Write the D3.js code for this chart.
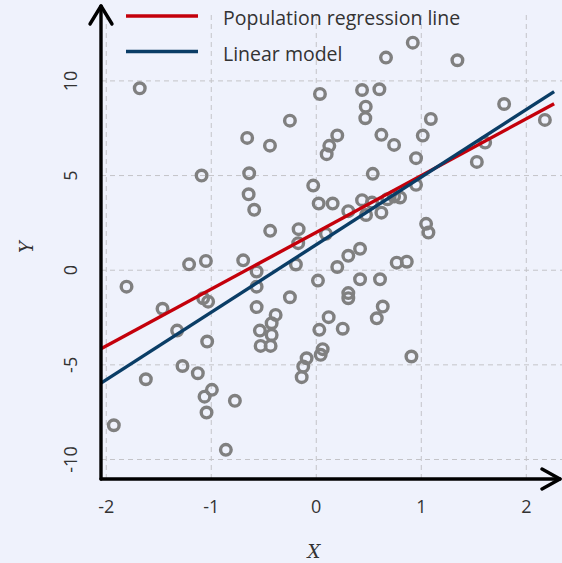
<!DOCTYPE html>
<html>
<head>
<meta charset="utf-8">
<script src="https://cdn.jsdelivr.net/npm/d3@7"></script>
<style>
  html, body { margin: 0; padding: 0; background: #eff2fc; }
  svg { display: block; }
</style>
</head>
<body>
<svg id="chart" width="562" height="563"></svg>
<script>
// ---- data ----
const pointsX = [2.177,1.789,1.608,1.529,1.344,1.091,1.046,1.068,1.014,0.950,0.950,0.906,0.919,0.862,0.766,0.798,0.741,0.677,0.741,0.664,0.620,0.620,0.633,0.576,0.607,0.601,0.538,0.531,0.474,0.436,0.471,0.467,0.436,0.417,0.417,0.305,0.305,0.305,0.305,0.252,0.200,0.200,0.156,0.124,0.099,0.092,0.118,0.035,0.023,-0.029,0.016,0.029,0.061,0.042,-0.092,-0.124,-0.139,-0.168,-0.172,-0.194,-0.251,-0.439,-0.387,-0.425,-0.537,-0.425,-0.530,-0.435,-0.568,-0.568,-0.568,-0.696,-0.591,-0.644,-0.639,-0.658,-0.441,-0.251,-1.051,-1.211,-1.092,-1.077,-1.030,-1.039,-1.464,-1.325,-1.274,-1.128,-1.623,-1.807,-1.681,-0.994,-1.064,-1.045,-0.775,-1.928,-0.861];
const pointsY = [7.94,8.78,6.74,5.72,11.09,7.99,2.45,1.99,7.11,5.92,4.51,-4.56,12.02,0.45,0.40,3.84,3.89,3.75,6.62,11.23,7.15,3.04,-1.92,-2.54,-0.48,9.56,5.09,3.57,2.92,3.70,8.64,8.03,9.52,1.13,-0.48,3.12,0.76,-1.21,-1.48,-3.09,7.12,0.17,3.52,6.57,6.13,1.92,-2.48,9.31,3.52,4.47,-0.55,-3.15,-4.17,-4.47,-4.65,-5.09,-5.65,2.17,1.43,0.30,-1.43,2.08,-2.36,-2.80,-3.19,-3.42,-4.00,-4.00,-0.07,-0.87,-1.95,0.52,3.19,4.01,5.12,6.99,6.58,7.90,0.49,0.31,5.00,-1.48,-1.66,-3.77,-2.04,-3.19,-5.06,-5.44,-5.76,-0.87,9.61,-6.32,-6.68,-7.52,-6.90,-8.19,-9.49];

const lineNames = ["Population regression line", "Linear model"];
const lineIntercepts = [2.0, 1.35];
const lineSlopes = [3.0, 3.57];
const lineColors = ["#c4000b", "#0a3d66"];
const lineXRange = [-2.05, 2.265];

const xTicks = [-2, -1, 0, 1, 2];
const yTicks = [-10, -5, 0, 5, 10];
const xDomain = [-2.05, 2.34];
const yDomain = [-11.03, 13.64];

// ---- layout ----
const svg = d3.select("#chart");
const plotLeft = 101, plotRight = 562, plotBottom = 479, plotTop = 12;

const x = d3.scaleLinear().domain(xDomain).range([plotLeft, plotRight]);
const y = d3.scaleLinear().domain(yDomain).range([plotBottom, plotTop]);

svg.append("rect").attr("width", 562).attr("height", 563).attr("fill", "#eff2fc");

// grid
const grid = svg.append("g").attr("stroke", "#c4c4c8").attr("stroke-width", 1)
  .attr("stroke-dasharray", "5,4").attr("fill", "none");
grid.selectAll("line.vx").data(xTicks).join("line")
  .attr("x1", d => x(d)).attr("x2", d => x(d))
  .attr("y1", plotTop + 3).attr("y2", plotBottom);
grid.selectAll("line.hy").data(yTicks).join("line")
  .attr("x1", plotLeft).attr("x2", plotRight)
  .attr("y1", d => y(d)).attr("y2", d => y(d));

// points
const pts = d3.range(pointsX.length).map(i => ({x: pointsX[i], y: pointsY[i]}));
svg.append("g").selectAll("circle").data(pts).join("circle")
  .attr("cx", d => x(d.x)).attr("cy", d => y(d.y)).attr("r", 5.3)
  .attr("fill", "none").attr("stroke", "#808080").attr("stroke-width", 3.4);

// regression lines
const lineGen = d3.line().x(d => x(d[0])).y(d => y(d[1]));
lineNames.forEach((name, i) => {
  const data = lineXRange.map(v => [v, lineIntercepts[i] + lineSlopes[i] * v]);
  svg.append("path").attr("d", lineGen(data)).attr("fill", "none")
    .attr("stroke", lineColors[i]).attr("stroke-width", 3.4);
});

// axes with arrows
const axisG = svg.append("g").attr("stroke", "#000").attr("stroke-width", 3.4)
  .attr("fill", "none").attr("stroke-linecap", "round").attr("stroke-linejoin", "round");
axisG.append("path").attr("d", d3.line()([[plotLeft, plotBottom], [plotLeft, 6]]));
axisG.append("path").attr("d", d3.line()([[plotLeft - 11, 24], [plotLeft, 6], [plotLeft + 11, 24]]));
axisG.append("path").attr("d", d3.line()([[plotLeft, plotBottom], [560, plotBottom]]));
axisG.append("path").attr("d", d3.line()([[542, plotBottom - 10], [560, plotBottom], [542, plotBottom + 10]]));

// tick labels
const font = "'Open Sans', 'Noto Sans', sans-serif";
svg.append("g").selectAll("text").data(xTicks).join("text")
  .attr("x", d => x(d)).attr("y", 513).attr("text-anchor", "middle")
  .attr("font-family", font).attr("font-size", 18).attr("fill", "#333")
  .text(d => d);
svg.append("g").selectAll("text").data(yTicks).join("text")
  .attr("transform", d => `translate(77,${y(d)}) rotate(-90)`)
  .attr("text-anchor", "middle")
  .attr("font-family", font).attr("font-size", 18).attr("fill", "#333")
  .text(d => d);

// axis titles
svg.append("text").attr("x", 314).attr("y", 558).attr("text-anchor", "middle")
  .attr("font-family", "'DejaVu Serif', serif").attr("font-style", "italic")
  .attr("font-size", 18).attr("fill", "#333").text("X");
svg.append("text").attr("transform", "translate(33,247) rotate(-90)")
  .attr("text-anchor", "middle")
  .attr("font-family", "'DejaVu Serif', serif").attr("font-style", "italic")
  .attr("font-size", 18).attr("fill", "#333").text("Y");

// legend
const legendY = [16, 51.5];
const leg = svg.append("g");
lineNames.forEach((name, i) => {
  leg.append("line").attr("x1", 126).attr("x2", 198)
    .attr("y1", legendY[i]).attr("y2", legendY[i])
    .attr("stroke", lineColors[i]).attr("stroke-width", 3.4);
  leg.append("text").attr("x", 223).attr("y", legendY[i] + 9)
    .attr("font-family", font).attr("font-size", 19.5).attr("fill", "#333")
    .text(name);
});
</script>
</body>
</html>
